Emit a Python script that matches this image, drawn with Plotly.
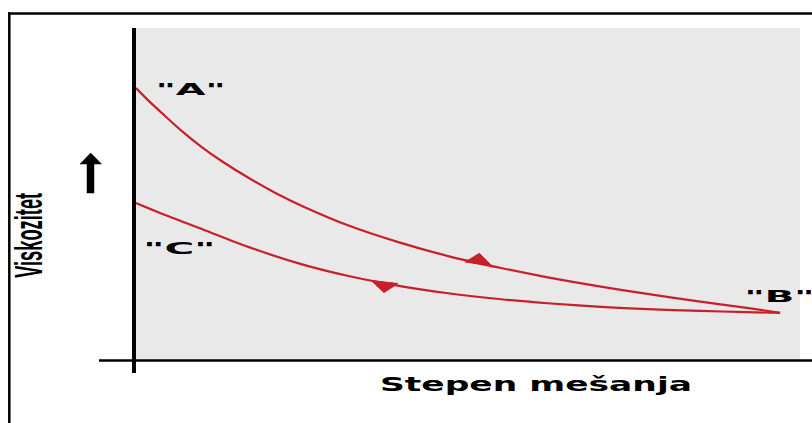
import json
import numpy as np
import plotly.graph_objects as go

# browser window 812x423 (body margin removed in the page script below)
W, H = 812, 423

# ---- data (relative units: x = stepen mešanja 0-100, y = viskozitet 0-100) ----
mix_forward = [0, 2, 4, 7, 10, 13, 17, 21, 25, 32, 40, 47, 55, 62, 70, 77, 85, 92, 97]
visc_forward = [81.9, 77.9, 74.2, 68.8, 64.0, 59.8, 54.8, 50.3, 46.4, 40.5, 35.2, 31.3,
                27.7, 24.9, 22.1, 19.9, 17.6, 15.7, 14.2]
mix_back = [97, 92, 85, 77, 70, 62, 55, 47, 40, 32, 25, 17, 10, 4, 0]
visc_back = [14.2, 14.4, 14.8, 15.3, 16.0, 17.1, 18.3, 20.1, 22.2, 25.3, 28.8, 34.0,
             39.4, 44.0, 47.3]
point_labels = ['"A"', '"B"', '"C"']
x_title = "Stepen mešanja"
y_title = "Viskozitet"

RED = "#c8202a"

# plot area in window pixels
PX0, PX1 = 136, 800
PY0, PY1 = 28, 360
XR = (0, 100)
YR = (0, 100)


def px(x, y):
    """window pixel -> paper coords"""
    return x / W, 1 - y / H


def d2p(x, y):
    sx = (PX1 - PX0) / (XR[1] - XR[0])
    sy = (PY1 - PY0) / (YR[1] - YR[0])
    return PX0 + (x - XR[0]) * sx, PY1 - (y - YR[0]) * sy


def p2d(X, Y):
    sx = (PX1 - PX0) / (XR[1] - XR[0])
    sy = (PY1 - PY0) / (YR[1] - YR[0])
    return XR[0] + (X - PX0) / sx, YR[0] + (PY1 - Y) / sy


fig = go.Figure()
fig.add_trace(go.Scatter(x=mix_forward, y=visc_forward, mode="lines",
                         line=dict(color=RED, width=2.2, shape="spline", smoothing=0.8),
                         hoverinfo="skip", showlegend=False))
fig.add_trace(go.Scatter(x=mix_back, y=visc_back, mode="lines",
                         line=dict(color=RED, width=2.2, shape="spline", smoothing=0.8),
                         hoverinfo="skip", showlegend=False))

shapes = []


def harpoon(xs, ys, tip_x, back_x):
    """half arrow head on the curve, pointing from back_x towards tip_x"""
    order = np.argsort(xs)
    xa = np.array(xs)[order]
    ya = np.array(ys)[order]
    ty = float(np.interp(tip_x, xa, ya))
    by = float(np.interp(back_x, xa, ya))
    T = np.array(d2p(tip_x, ty))
    B = np.array(d2p(back_x, by))
    d = T - B
    d = d / np.linalg.norm(d)
    left = np.array([d[1], -d[0]])
    back = T - 27 * d - 2 * left
    barb = T - 15 * d + 9.5 * left
    pts = [p2d(*T), p2d(*barb), p2d(*back)]
    path = "M{},{} L{},{} L{},{} Z".format(*[v for p in pts for v in p])
    shapes.append(dict(type="path", xref="x", yref="y", path=path,
                       fillcolor=RED, line=dict(color=RED, width=1), layer="above"))


harpoon(mix_forward, visc_forward, 53.6, 49.0)
harpoon(mix_back, visc_back, 35.4, 40.0)


def line_px(x0, y0, x1, y1, w):
    a = px(x0, y0)
    b = px(x1, y1)
    shapes.append(dict(type="line", xref="paper", yref="paper",
                       x0=a[0], y0=a[1], x1=b[0], y1=b[1],
                       line=dict(color="black", width=w), layer="above"))


# outer frame (top and left)
line_px(8, 13.5, 812, 13.5, 2.5)
line_px(9.3, 12.3, 9.3, 423, 2.5)
# axes
line_px(99, 360.5, 812, 360.5, 2.5)
line_px(134, 28, 134, 373, 4)

# up arrow next to y title
arrow_pts = [(90.7, 153), (101.5, 164), (94, 164), (94, 193), (87, 193), (87, 164), (80, 164)]
p = [px(*a) for a in arrow_pts]
shapes.append(dict(type="path", xref="paper", yref="paper",
                   path="M" + " L".join("{},{}".format(a, b) for a, b in p) + " Z",
                   fillcolor="black", line=dict(color="black", width=0.5), layer="above"))

annotations = []
stretch = []


def label(text, x, y, size, family, length, angle=0):
    a = px(x, y)
    annotations.append(dict(text=text, xref="paper", yref="paper", x=a[0], y=a[1],
                            xanchor="center", yanchor="middle", showarrow=False,
                            textangle=angle,
                            font=dict(family=family, size=size, color="black", weight="bold")))
    stretch.append(length)


label(point_labels[0], 190, 90, 15, "DejaVu Sans", 70)
label(point_labels[1], 779, 297, 15, "DejaVu Sans", 70)
label(point_labels[2], 179, 249, 15, "DejaVu Sans", 72)
label(x_title, 536, 384, 19, "DejaVu Sans", 312)
label(y_title, 28, 236, 39, "Liberation Sans", 85, angle=-90)

fig.update_layout(
    width=W, height=H,
    margin=dict(l=0, r=0, t=0, b=0),
    paper_bgcolor="white",
    plot_bgcolor="#e9e9e9",
    xaxis=dict(domain=[PX0 / W, PX1 / W], range=list(XR), visible=False, fixedrange=True),
    yaxis=dict(domain=[1 - PY1 / H, 1 - PY0 / H], range=list(YR), visible=False, fixedrange=True),
    shapes=shapes,
    annotations=annotations,
    showlegend=False,
)

post = """
document.body.style.margin = '0';
document.body.style.overflow = 'hidden';
var gd = document.getElementById('{plot_id}');
var L = %s;
gd.querySelectorAll('g.annotation').forEach(function(g){
  var i = +g.getAttribute('data-index');
  var t = g.querySelector('text.annotation-text');
  if (t && L[i]) { t.setAttribute('textLength', L[i]); t.setAttribute('lengthAdjust', 'spacingAndGlyphs'); }
});
""" % json.dumps(stretch)

fig.write_html("out.html", config={"displayModeBar": False, "staticPlot": True}, post_script=post)
